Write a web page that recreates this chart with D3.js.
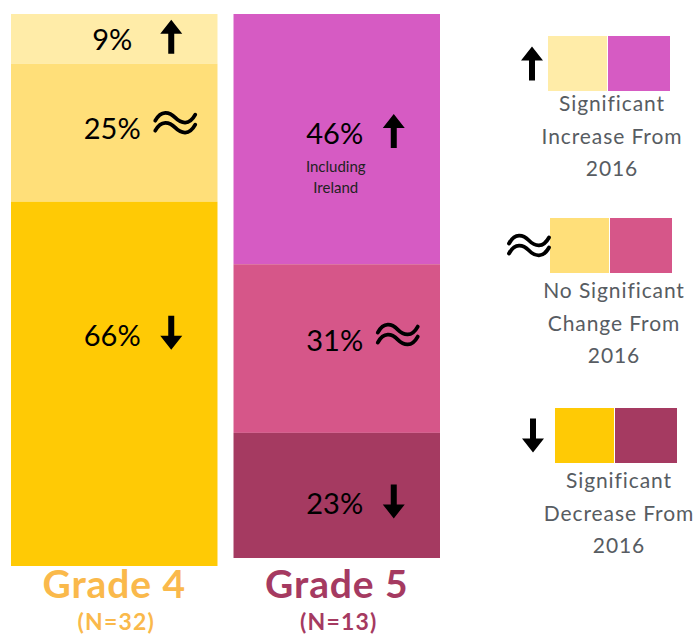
<!DOCTYPE html>
<html>
<head>
<meta charset="utf-8">
<script src="https://cdn.jsdelivr.net/npm/d3@7"></script>
<style>
  body { margin: 0; background: #fff; }
  svg { display: block; }
</style>
</head>
<body>
<div id="chart"></div>
<script>
// DATOS
var grades = ['Grade 4', 'Grade 5'];
var gradeN = ['(N=32)', '(N=13)'];
var changeTypes = ['increase', 'nochange', 'decrease'];
var grade4Values = [9, 25, 66];
var grade5Values = [46, 31, 23];
var grade5Notes = [['Including', 'Ireland'], [], []];
var legendLabels = [
    ['Significant', 'Increase From', '2016'],
    ['No Significant', 'Change From', '2016'],
    ['Significant', 'Decrease From', '2016']
];

// COLORES
var grade4Colors = ['#ffeca8', '#ffdf79', '#ffca05'];
var grade5Colors = ['#d65bc3', '#d65689', '#a53a61'];
var gradeTitleColors = ['#fab94b', '#a53a61'];
var legendTextColor = '#575c62';

var gradeValues = [grade4Values, grade5Values];
var gradeColors = [grade4Colors, grade5Colors];
var gradeNotes = [[[], [], []], grade5Notes];

// TAMAÑO
var chart_width = 696;
var chart_height = 637;
var barTop = 14;
var barBottom = [566, 558];
// pequeños ajustes verticales de las etiquetas, como en el original
var labelNudge = [[1, -4, -48], [-5, -8, 9]];

var svg = d3.select('#chart').append('svg')
    .attr('width', chart_width)
    .attr('height', chart_height);

var scale_x = d3.scaleBand()
    .domain(grades)
    .range([11, 440])
    .paddingInner(0.072);

// iconos: flecha arriba, flecha abajo, casi igual
function drawIcon(g, type, cx, cy) {
    var ig = g.append('g').attr('transform', 'translate(' + cx + ',' + cy + ')');
    if (type === 'nochange') {
        var wave = 'M-20,3 C-14,-8 -6,-6 0,0 S14,8 20,-3';
        [-5, 5].forEach(function (dy) {
            ig.append('path')
                .attr('d', wave)
                .attr('transform', 'translate(0,' + dy + ')')
                .attr('fill', 'none')
                .attr('stroke', '#000')
                .attr('stroke-width', 3.8)
                .attr('stroke-linecap', 'round');
        });
    } else {
        var d = 'M0,-17 L11,-3 L3,-3 L3,17 L-3,17 L-3,-3 L-11,-3 Z';
        ig.append('path')
            .attr('d', d)
            .attr('fill', '#000')
            .attr('transform', type === 'decrease' ? 'rotate(180)' : null);
    }
}

grades.forEach(function (grade, gi) {
    var scale_y = d3.scaleLinear()
        .domain([0, 100])
        .range([barTop, barBottom[gi]]);
    var ends = d3.cumsum(gradeValues[gi]);
    var segs = gradeValues[gi].map(function (v, i) {
        return { value: v, type: changeTypes[i], y0: ends[i] - v, y1: ends[i], color: gradeColors[gi][i], note: gradeNotes[gi][i] };
    });

    var g = svg.append('g');
    var cx = scale_x(grade) + scale_x.bandwidth() / 2;

    g.selectAll('rect')
        .data(segs)
        .enter().append('rect')
        .attr('x', scale_x(grade))
        .attr('width', scale_x.bandwidth())
        .attr('y', function (d) { return scale_y(d.y0); })
        .attr('height', function (d) { return scale_y(d.y1) - scale_y(d.y0); })
        .attr('fill', function (d) { return d.color; });

    segs.forEach(function (d, i) {
        var base = (scale_y(d.y0) + scale_y(d.y1)) / 2 + 10 + labelNudge[gi][i];
        g.append('text')
            .attr('x', cx - 2)
            .attr('y', base)
            .attr('text-anchor', 'middle')
            .attr('font-family', 'Lato, sans-serif')
            .attr('font-size', 29)
            .attr('fill', '#000')
            .text(d.value + '%');
        if (d.type === 'nochange') {
            drawIcon(g, d.type, cx + 61, base - 16);
        } else {
            drawIcon(g, d.type, cx + 57, base - 13);
        }
        d.note.forEach(function (line, li) {
            g.append('text')
                .attr('x', cx - 1)
                .attr('y', base + 28 + li * 21)
                .attr('text-anchor', 'middle')
                .attr('font-family', 'Lato, sans-serif')
                .attr('font-size', 15)
                .attr('fill', '#222')
                .text(line);
        });
    });

    // TITULO DEL GRADO
    g.append('text')
        .attr('x', cx)
        .attr('y', 598)
        .attr('text-anchor', 'middle')
        .attr('font-family', 'Lato, sans-serif')
        .attr('font-weight', 'bold')
        .attr('font-size', 39)
        .attr('letter-spacing', 0.9)
        .attr('fill', gradeTitleColors[gi])
        .text(grade);
    g.append('text')
        .attr('x', cx + 2)
        .attr('y', 630)
        .attr('text-anchor', 'middle')
        .attr('font-family', 'Lato, sans-serif')
        .attr('font-weight', 'bold')
        .attr('font-size', 23)
        .attr('letter-spacing', 1.2)
        .attr('fill', gradeTitleColors[gi])
        .text(gradeN[gi]);
});

// LEYENDA
var legendX = [548, 550, 555];
var legendY = [36, 218, 408];
var legendIconDx = [-16, -21, -22];
var swatchW = [59, 62];
var swatchH = 55;

changeTypes.forEach(function (type, i) {
    var lg = svg.append('g').attr('transform', 'translate(' + legendX[i] + ',' + legendY[i] + ')');
    lg.append('rect')
        .attr('x', 0).attr('y', 0)
        .attr('width', swatchW[0]).attr('height', swatchH)
        .attr('fill', grade4Colors[i]);
    lg.append('rect')
        .attr('x', swatchW[0] + 1).attr('y', 0)
        .attr('width', swatchW[1]).attr('height', swatchH)
        .attr('fill', grade5Colors[i]);
    drawIcon(lg, type, legendIconDx[i], swatchH / 2);
    legendLabels[i].forEach(function (line, li) {
        lg.append('text')
            .attr('x', 64)
            .attr('y', swatchH + (i === 0 ? 20 : 25) + li * 32.5)
            .attr('text-anchor', 'middle')
            .attr('font-family', 'Lato, sans-serif')
            .attr('font-size', 21)
            .attr('letter-spacing', 0.9)
            .attr('fill', legendTextColor)
            .text(line);
    });
});
</script>
</body>
</html>
